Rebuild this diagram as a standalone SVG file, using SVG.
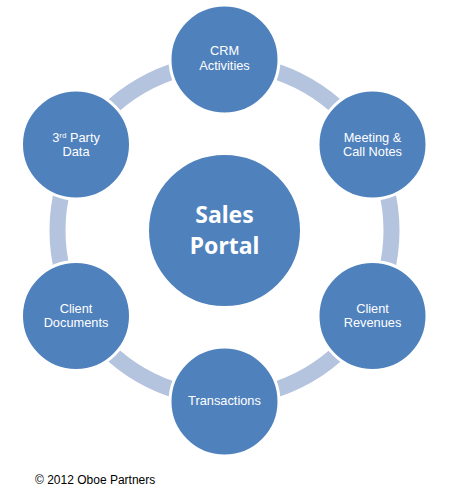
<svg xmlns="http://www.w3.org/2000/svg" width="456" height="499" viewBox="0 0 456 499">
<style>
.ring{fill:none;stroke:#b4c3de;stroke-width:16}
.node{fill:#4f81bd;stroke:#ffffff;stroke-width:3}
.lbl{font-family:"Liberation Sans",Arial,sans-serif;font-size:12.8px;fill:#ffffff;text-anchor:middle}
.big{font-family:"Noto Sans","Open Sans",sans-serif;font-size:23px;font-weight:bold;fill:#ffffff;text-anchor:middle}
.copy{font-family:"Liberation Sans",Arial,sans-serif;font-size:12px;fill:#000000}
</style>
<rect width="456" height="499" fill="#ffffff"/>
<g id="connectors">
<path class="ring" d="M224.5 63.5 A167 167 0 0 1 369.13 147"/>
<path class="ring" d="M369.13 147 A167 167 0 0 1 369.13 314"/>
<path class="ring" d="M369.13 314 A167 167 0 0 1 224.5 397.5"/>
<path class="ring" d="M224.5 397.5 A167 167 0 0 1 79.87 314"/>
<path class="ring" d="M79.87 314 A167 167 0 0 1 79.87 147"/>
<path class="ring" d="M79.87 147 A167 167 0 0 1 224.5 63.5"/>
</g>
<g id="sales-portal">
<circle class="node" cx="224.5" cy="230.5" r="77"/>
<text class="big" x="224.5" y="223">Sales</text>
<text class="big" x="224.5" y="253.5">Portal</text>
</g>
<g id="crm-activities">
<circle class="node" cx="224.5" cy="59.5" r="54.5"/>
<text class="lbl" x="224.5" y="55">CRM</text>
<text class="lbl" x="224.5" y="69.5">Activities</text>
</g>
<g id="meeting-call-notes">
<circle class="node" cx="372.5" cy="144.5" r="54.5"/>
<text class="lbl" x="372.5" y="141.5">Meeting &amp;</text>
<text class="lbl" x="372.5" y="156">Call Notes</text>
</g>
<g id="client-revenues">
<circle class="node" cx="372.5" cy="316" r="54.5"/>
<text class="lbl" x="372.5" y="312.5">Client</text>
<text class="lbl" x="372.5" y="327">Revenues</text>
</g>
<g id="transactions">
<circle class="node" cx="224.5" cy="401.5" r="54.5"/>
<text class="lbl" x="224.5" y="405">Transactions</text>
</g>
<g id="client-documents">
<circle class="node" cx="76" cy="316" r="54.5"/>
<text class="lbl" x="76" y="312.5">Client</text>
<text class="lbl" x="76" y="327">Documents</text>
</g>
<g id="third-party-data">
<circle class="node" cx="76" cy="144.5" r="54.5"/>
<text class="lbl" x="76" y="141.5">3<tspan font-size="8" dy="-4">rd</tspan><tspan dy="4"> Party</tspan></text>
<text class="lbl" x="76" y="156">Data</text>
</g>
<text class="copy" x="35" y="483.5">© 2012 Oboe Partners</text>
</svg>
